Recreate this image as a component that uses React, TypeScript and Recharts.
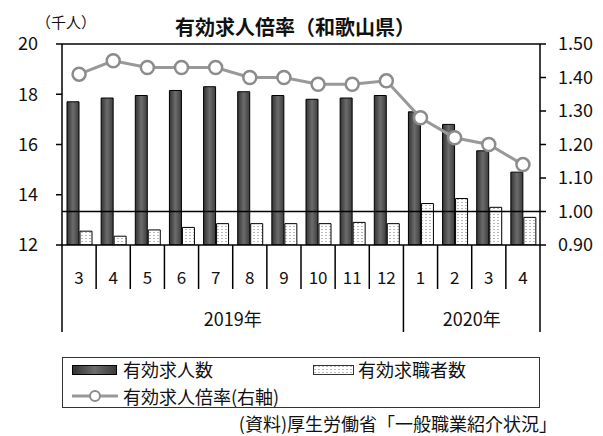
import { ComposedChart, Bar, Line, XAxis, YAxis, ReferenceLine } from 'recharts';

const MONTHS = ['3', '4', '5', '6', '7', '8', '9', '10', '11', '12', '1', '2', '3', '4'];
const YEAR_LABELS = ['2019年', '2020年'];
const YEAR_SPANS = [10, 4];
const JOB_OFFERS = [17.7, 17.85, 17.95, 18.15, 18.3, 18.1, 17.95, 17.8, 17.85, 17.95, 17.3, 16.8, 15.75, 14.9];
const JOB_SEEKERS = [12.55, 12.35, 12.6, 12.7, 12.85, 12.85, 12.85, 12.85, 12.9, 12.85, 13.65, 13.85, 13.5, 13.1];
const RATIO = [1.41, 1.45, 1.43, 1.43, 1.43, 1.4, 1.4, 1.38, 1.38, 1.39, 1.28, 1.22, 1.2, 1.14];
const LEFT_TICKS = [12, 14, 16, 18, 20];
const RIGHT_TICKS = [0.9, 1.0, 1.1, 1.2, 1.3, 1.4, 1.5];

const data = MONTHS.map((m, i) => ({
  key: `${i}`,
  month: m,
  offers: JOB_OFFERS[i],
  seekers: JOB_SEEKERS[i],
  ratio: RATIO[i],
}));

const FONT = '"Noto Sans CJK JP", "Noto Sans", sans-serif';
const PLOT_LEFT = 62;
const PLOT_RIGHT = 540;
const PLOT_BOTTOM = 245;
const BAND = (PLOT_RIGHT - PLOT_LEFT) / MONTHS.length;

// indices where a year group starts / ends
const groupStarts: number[] = [];
const groupEnds: number[] = [];
YEAR_SPANS.reduce((acc, n) => {
  groupStarts.push(acc);
  groupEnds.push(acc + n - 1);
  return acc + n;
}, 0);

function MonthTick(props: any) {
  const { x, index } = props;
  const left = x - BAND / 2;
  const right = x + BAND / 2;
  const isEnd = groupEnds.includes(index);
  const g = groupStarts.indexOf(index);
  return (
    <g>
      {index === 0 && <line x1={left} x2={left} y1={PLOT_BOTTOM} y2={332} stroke="#000" strokeWidth={1.5} />}
      <line x1={right} x2={right} y1={PLOT_BOTTOM} y2={isEnd ? 332 : 289} stroke="#000" strokeWidth={1.5} />
      <text x={x} y={276} textAnchor="middle" dominantBaseline="central" fontSize={17} fontFamily={FONT} fill="#111">
        {MONTHS[index]}
      </text>
      {g >= 0 && (
        <text x={x + ((YEAR_SPANS[g] - 1) / 2) * BAND} y={318} textAnchor="middle" dominantBaseline="central"
          fontSize={18} fontFamily={FONT} fill="#111">
          {YEAR_LABELS[g]}
        </text>
      )}
    </g>
  );
}

export default function App() {
  return (
    <div style={{ position: 'absolute', left: 0, top: 0, width: 603, height: 436, background: '#fff', fontFamily: FONT }}>
      <div style={{ position: 'absolute', left: 175, top: 14, fontSize: 20, fontWeight: 700, lineHeight: '26px', color: '#111', whiteSpace: 'nowrap' }}>
        有効求人倍率（和歌山県）
      </div>
      <div style={{ position: 'absolute', left: 36, top: 12, fontSize: 15, lineHeight: '20px', color: '#111', whiteSpace: 'nowrap' }}>
        （千人）
      </div>

      <ComposedChart width={603} height={436} data={data} margin={{ top: 44, right: 0, bottom: 91, left: 0 }}
        barSize={12} barGap={1} style={{ position: 'absolute', left: 0, top: 0 }}>
        <defs>
          <linearGradient id="darkBar" x1="0" y1="0" x2="1" y2="0">
            <stop offset="0" stopColor="#333" />
            <stop offset="0.5" stopColor="#6c6c6c" />
            <stop offset="1" stopColor="#3d3d3d" />
          </linearGradient>
          <pattern id="dots" width="4" height="3" patternUnits="userSpaceOnUse">
            <rect width="4" height="3" fill="#fff" />
            <rect x="1.5" y="1" width="1" height="1" fill="#777" />
          </pattern>
        </defs>
        <XAxis dataKey="key" height={100} interval={0} tickLine={false} axisLine={{ stroke: '#000', strokeWidth: 1.5 }}
          tick={<MonthTick />} />
        <YAxis yAxisId="left" orientation="left" width={62} domain={[12, 20]} ticks={LEFT_TICKS} allowDataOverflow
          axisLine={{ stroke: '#000', strokeWidth: 1.5 }} tickLine={{ stroke: '#000', strokeWidth: 1.5 }} tickSize={6} tickMargin={18}
          tick={{ fontSize: 18, fill: '#111', fontFamily: FONT }} />
        <YAxis yAxisId="right" orientation="right" width={63} domain={[0.9, 1.5]} ticks={RIGHT_TICKS} allowDataOverflow
          axisLine={{ stroke: '#000', strokeWidth: 1.5 }} tickLine={{ stroke: '#000', strokeWidth: 1.5 }} tickSize={6} tickMargin={12}
          tickFormatter={(v: number) => v.toFixed(2)}
          tick={{ fontSize: 18, fill: '#111', fontFamily: FONT, textAnchor: 'start' }} />
        <Bar yAxisId="left" dataKey="offers" name="有効求人数" fill="url(#darkBar)" stroke="#000" strokeWidth={1}
          isAnimationActive={false} />
        <Bar yAxisId="left" dataKey="seekers" name="有効求職者数" fill="url(#dots)" stroke="#000" strokeWidth={1}
          isAnimationActive={false} />
        <ReferenceLine yAxisId="left" y={20} stroke="#000" strokeWidth={1.5} />
        <ReferenceLine yAxisId="right" y={1} stroke="#000" strokeWidth={1.5} />
        <Line yAxisId="right" dataKey="ratio" name="有効求人倍率(右軸)" type="linear" stroke="#999" strokeWidth={3}
          dot={{ r: 6.5, fill: '#fff', stroke: '#8c8c8c', strokeWidth: 2.5 }} isAnimationActive={false} />
      </ComposedChart>

      {/* legend */}
      <div style={{ position: 'absolute', left: 62, top: 357, width: 476, height: 49, border: '1.5px solid #333', fontSize: 18, color: '#111' }}>
        <div style={{ position: 'absolute', left: 9, top: 7, width: 45, height: 10, background: 'linear-gradient(90deg,#333,#6c6c6c,#3d3d3d)', border: '1px solid #000', boxSizing: 'border-box' }} />
        <div style={{ position: 'absolute', left: 60, top: 1, lineHeight: '20px', whiteSpace: 'nowrap' }}>有効求人数</div>
        <svg style={{ position: 'absolute', left: 250, top: 7 }} width={42} height={11}>
          <defs>
            <pattern id="legendDots" width="4" height="3" patternUnits="userSpaceOnUse">
              <rect width="4" height="3" fill="#fff" />
              <rect x="1.5" y="1" width="1" height="1" fill="#777" />
            </pattern>
          </defs>
          <rect x={0.5} y={0.5} width={40} height={9} fill="url(#legendDots)" stroke="#333" />
        </svg>
        <div style={{ position: 'absolute', left: 295, top: 1, lineHeight: '20px', whiteSpace: 'nowrap' }}>有効求職者数</div>
        <svg style={{ position: 'absolute', left: 9, top: 31 }} width={46} height={14}>
          <line x1={0} x2={46} y1={7} y2={7} stroke="#999" strokeWidth={3} />
          <circle cx={23} cy={7} r={5} fill="#fff" stroke="#8c8c8c" strokeWidth={2} />
        </svg>
        <div style={{ position: 'absolute', left: 60, top: 28, lineHeight: '20px', whiteSpace: 'nowrap' }}>有効求人倍率(右軸)</div>
      </div>

      <div style={{ position: 'absolute', right: 46, top: 413, fontSize: 18, lineHeight: '21px', color: '#111', whiteSpace: 'nowrap' }}>
        (資料)厚生労働省「一般職業紹介状況」
      </div>
    </div>
  );
}
